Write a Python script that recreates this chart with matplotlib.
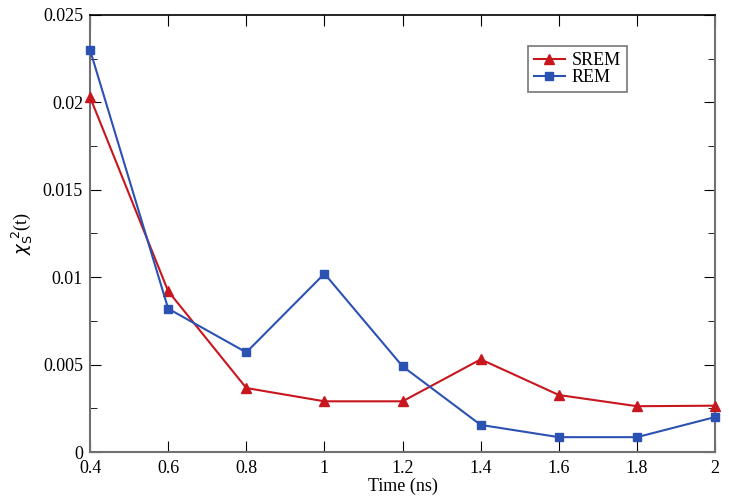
import matplotlib
matplotlib.use("Agg")
import matplotlib.pyplot as plt
from matplotlib.ticker import MultipleLocator

plt.rcParams['font.family'] = ['Liberation Serif', 'DejaVu Serif']

time_ns = [0.4, 0.6, 0.8, 1.0, 1.2, 1.4, 1.6, 1.8, 2.0]
srem = [0.0203, 0.0092, 0.00366, 0.00290, 0.00290, 0.00530, 0.00326, 0.00262, 0.00265]
rem = [0.0230, 0.0082, 0.0057, 0.0102, 0.0049, 0.00155, 0.00085, 0.00085, 0.0020]

x_ticks = [0.4, 0.6, 0.8, 1, 1.2, 1.4, 1.6, 1.8, 2]
x_labels = ["0.4", "0.6", "0.8", "1", "1.2", "1.4", "1.6", "1.8", "2"]
y_ticks = [0, 0.005, 0.01, 0.015, 0.02, 0.025]
y_labels = ["0", "0.005", "0.01", "0.015", "0.02", "0.025"]

fig = plt.figure(figsize=(7.29, 4.97), dpi=100)
ax = fig.add_axes([0.1235, 0.0905, 0.8575, 0.8795])

ax.plot(time_ns, srem, color='#c8161e', marker='^', markersize=7, linewidth=1.5,
        label='SREM', clip_on=False, zorder=3)
ax.plot(time_ns, rem, color='#2b52b2', marker='s', markersize=6, linewidth=1.5,
        label='REM', clip_on=False, zorder=3)

ax.set_xlim(0.4, 2)
ax.set_ylim(0, 0.025)
ax.set_xticks(x_ticks)
ax.set_xticklabels(x_labels)
ax.set_yticks(y_ticks)
ax.set_yticklabels(y_labels)
ax.yaxis.set_minor_locator(MultipleLocator(0.0025))

ax.tick_params(which='both', direction='in', top=True, right=True, labelsize=13)
ax.tick_params(axis='x', pad=6)
ax.tick_params(axis='y', pad=5)
ax.tick_params(which='major', length=8)
ax.tick_params(which='minor', length=5)
for s in ax.spines.values():
    s.set_color('#707070')
    s.set_linewidth(1.5)
ax.spines['top'].set_color('black')
ax.spines['top'].set_linewidth(1.2)

ax.set_xlabel('Time (ns)', fontsize=13, labelpad=0)
ax.set_ylabel(r'$\chi_{\mathrm{S}}^{\ 2}$(t)', fontsize=13, labelpad=6)

leg = ax.legend(loc='upper left', bbox_to_anchor=(0.70, 0.93), fontsize=13, frameon=True,
                fancybox=False, edgecolor='#555555', handlelength=1.7, borderpad=0.35,
                labelspacing=0.0, handletextpad=0.4, borderaxespad=0)
leg.get_frame().set_linewidth(1.2)

fig.savefig("out.png", dpi=100)
